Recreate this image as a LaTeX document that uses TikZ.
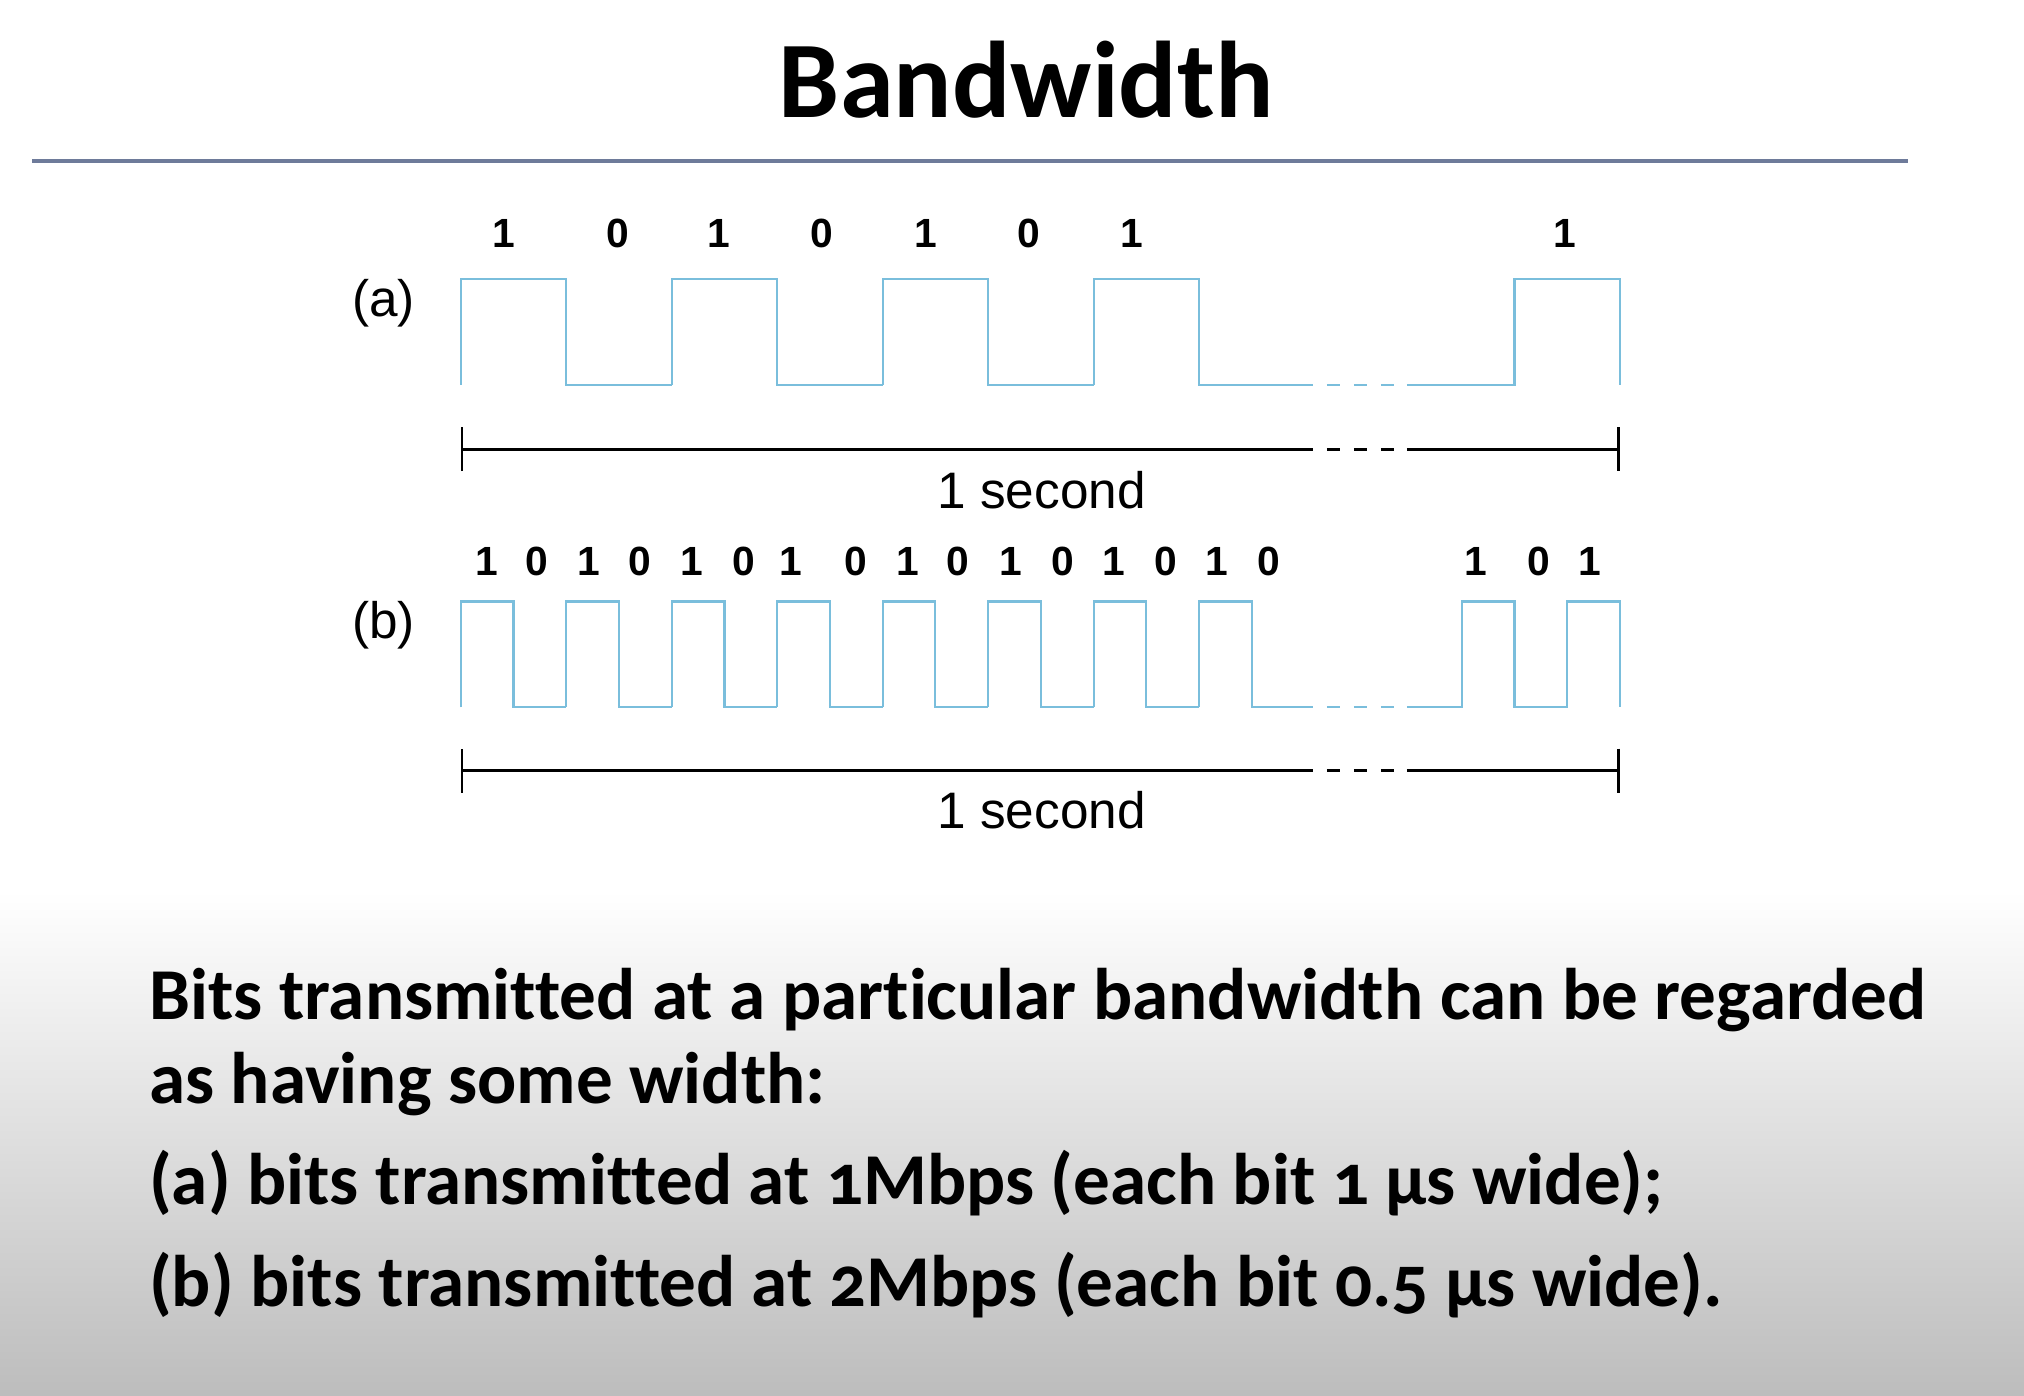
\documentclass[tikz,border=0pt]{standalone}
\usepackage{fontspec}
\setmainfont{Carlito}[Numbers=OldStyle,Ligatures=NoCommon]
\newfontfamily\helv{Liberation Sans}
\usetikzlibrary{arrows.meta}

\definecolor{wavecol}{RGB}{122,190,220}
\definecolor{rulecol}{RGB}{110,123,154}
\tikzset{
  wave/.style={wavecol,line width=0.6pt},
  gap/.style={dash pattern=on 0pt off 4pt on 3.7pt off 4pt on 3.7pt off 4pt on 3.7pt off 10pt},
  dim/.style={black,line width=0.75pt},
  bit/.style={font=\helv\fontsize{11.6}{12}\selectfont\bfseries,inner sep=0pt},
  lbl/.style={font=\helv\fontsize{14.6}{16}\selectfont,inner sep=0pt},
  body/.style={font=\bfseries\fontsize{20.8}{24}\selectfont,anchor=base west,inner sep=0pt}
}

\begin{document}
\begin{tikzpicture}[x=0.01291cm,y=-0.01291cm]
    \useasboundingbox (0,0) rectangle (1568,1081);
    \shade[top color=white,bottom color=black!26] (0,690) rectangle (1568,1081);

    \node[font=\bfseries\fontsize{31}{34}\selectfont,inner sep=0pt] (title) at (795,62) {Bandwidth};
    \draw[rulecol,line width=1.1pt] (25,125) -- (1478,125);

    % (a) one bit = 81.7
    \node[lbl] (lbla) at (297,235) {(a)};
    \foreach \x/\b in {390/1,479/0,557/1,637/0,717/1,797/0,877/1,1212/1}
      \node[bit] at (\x,181) {\b};
    \foreach \k in {0,...,3}
      \draw[wave] ({357+163.4*\k},298) -- ({357+163.4*\k},216) -- ({438.7+163.4*\k},216)
        -- ({438.7+163.4*\k},298) -- ({520.4+163.4*\k},298);
    \draw[wave] (1010,298) -- (1017,298);
    \draw[wave,gap] (1017,298) -- (1090,298);
    \draw[wave] (1090,298) -- (1173.3,298) -- (1173.3,216) -- (1255,216) -- (1255,298);

    \coordinate (sa) at (357,348);
    \coordinate (ma) at (1017,348);
    \coordinate (na) at (1090,348);
    \coordinate (ea) at (1255,348);
    \draw[dim,{Bar[width=12.5pt]}-] (sa) -- (ma);
    \draw[dim,gap] (ma) -- (na);
    \draw[dim,-{Bar[width=12.5pt]}] (na) -- (ea);
    \node[lbl] (seca) at (807,380) {1 second};

    % (b) one bit = 40.85
    \node[lbl] (lblb) at (297,484) {(b)};
    \foreach \x/\b in {377/1,416/0,456/1,496/0,536/1,576/0,613/1,663/0,703/1,742/0,783/1,823/0,863/1,903/0,943/1,983/0,1143/1,1192/0,1232/1}
      \node[bit] at (\x,435) {\b};
    \foreach \k in {0,...,7}
      \draw[wave] ({357+81.7*\k},548) -- ({357+81.7*\k},466) -- ({397.85+81.7*\k},466)
        -- ({397.85+81.7*\k},548) -- ({438.7+81.7*\k},548);
    \draw[wave] (969.6,548) -- (1017,548);
    \draw[wave,gap] (1017,548) -- (1090,548);
    \draw[wave] (1090,548) -- (1132.45,548) -- (1132.45,466) -- (1173.3,466) -- (1173.3,548)
      -- (1214.15,548) -- (1214.15,466) -- (1255,466) -- (1255,548);

    \coordinate (sb) at (357,597);
    \coordinate (mb) at (1017,597);
    \coordinate (nb) at (1090,597);
    \coordinate (eb) at (1255,597);
    \draw[dim,{Bar[width=12.5pt]}-] (sb) -- (mb);
    \draw[dim,gap] (mb) -- (nb);
    \draw[dim,-{Bar[width=12.5pt]}] (nb) -- (eb);
    \node[lbl] (secb) at (807,628) {1 second};

    \node[body] (t1) at (115,790) {Bits transmitted at a particular bandwidth can be regarded};
    \node[body] (t2) at (115,855) {as having some width:};
    \node[body] (t3) at (115,933) {(a) bits transmitted at 1Mbps (each bit 1 µs wide);};
    \node[body] (t4) at (115,1012) {(b) bits transmitted at 2Mbps (each bit 0.5 µs wide).};
\end{tikzpicture}
\end{document}
